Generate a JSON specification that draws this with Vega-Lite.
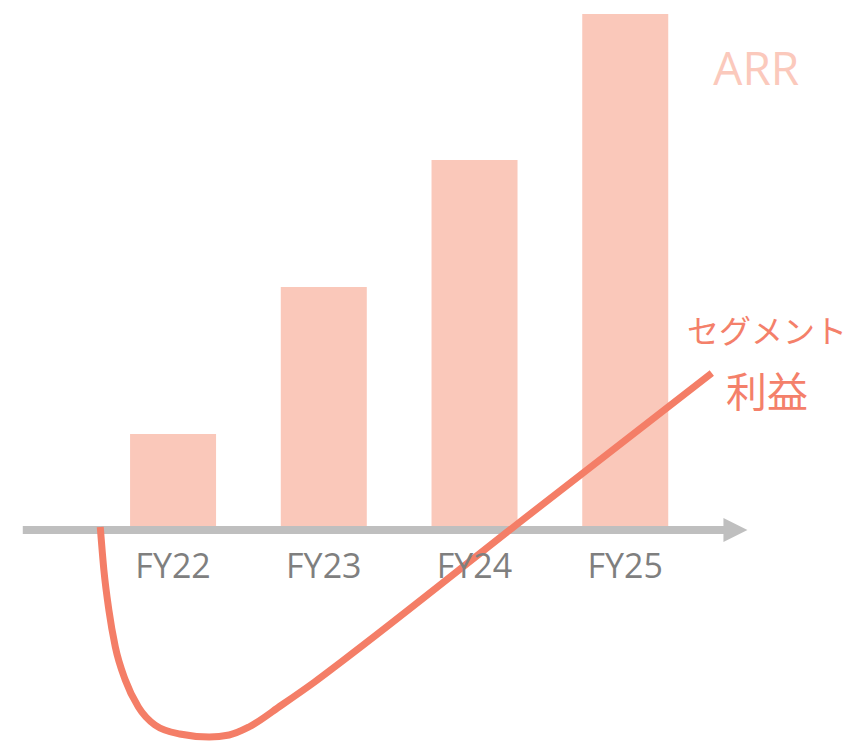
{
  "$schema": "https://vega.github.io/schema/vega-lite/v6.json",
  "width": 858,
  "height": 741,
  "padding": 0,
  "autosize": {"type": "none"},
  "background": "white",
  "config": {"view": {"stroke": null}},
  "datasets": {
    "arr": [
      {"fy": "FY22", "pos": 22, "arr": 96},
      {"fy": "FY23", "pos": 23, "arr": 243},
      {"fy": "FY24", "pos": 24, "arr": 370},
      {"fy": "FY25", "pos": 25, "arr": 516}
    ],
    "profit": [
      {"pos": 21.517, "profit": 3},
      {"pos": 21.541, "profit": -40},
      {"pos": 21.574, "profit": -80},
      {"pos": 21.617, "profit": -117},
      {"pos": 21.683, "profit": -150},
      {"pos": 21.770, "profit": -177},
      {"pos": 21.880, "profit": -195},
      {"pos": 22.044, "profit": -204},
      {"pos": 22.240, "profit": -207},
      {"pos": 22.372, "profit": -205},
      {"pos": 22.503, "profit": -197},
      {"pos": 22.721, "profit": -175},
      {"pos": 22.939, "profit": -152},
      {"pos": 23.115, "profit": -132},
      {"pos": 24.344, "profit": 13},
      {"pos": 25.574, "profit": 157}
    ],
    "axisline": [{"start": 21.003, "end": 25.672, "tip": 25.731, "zero": 0}]
  },
  "layer": [
    {
      "data": {"name": "arr"},
      "mark": {"type": "bar", "size": 86, "color": "#FAC8BA"},
      "encoding": {
        "x": {"field": "pos", "type": "quantitative", "scale": {"domain": [20.885, 26.511], "nice": false, "zero": false}, "axis": null},
        "y": {"field": "arr", "type": "quantitative", "scale": {"domain": [-211, 530], "nice": false, "zero": false}, "axis": null},
        "y2": {"datum": 0}
      }
    },
    {
      "data": {"name": "axisline"},
      "mark": {"type": "rule", "color": "#BFBFBF", "strokeWidth": 8, "strokeCap": "butt"},
      "encoding": {
        "x": {"field": "start", "type": "quantitative"},
        "x2": {"field": "end"},
        "y": {"field": "zero", "type": "quantitative"}
      }
    },
    {
      "data": {"name": "axisline"},
      "mark": {"type": "point", "shape": "M-1,-1L1,0L-1,1Z", "size": 576, "filled": true, "opacity": 1, "color": "#BFBFBF", "strokeWidth": 0},
      "encoding": {
        "x": {"field": "tip", "type": "quantitative"},
        "y": {"field": "zero", "type": "quantitative"}
      }
    },
    {
      "data": {"name": "profit"},
      "mark": {"type": "line", "color": "#F47E67", "strokeWidth": 7, "interpolate": "monotone", "strokeCap": "butt"},
      "encoding": {
        "x": {"field": "pos", "type": "quantitative"},
        "y": {"field": "profit", "type": "quantitative"}
      }
    },
    {
      "data": {"name": "arr"},
      "mark": {"type": "text", "font": "Open Sans", "fontSize": 34, "color": "#7F7F7F", "baseline": "middle", "align": "center"},
      "encoding": {
        "x": {"field": "pos", "type": "quantitative"},
        "y": {"datum": -38},
        "text": {"field": "fy"}
      }
    },
    {
      "data": {"values": [{"t": "ARR"}]},
      "mark": {"type": "text", "font": "Open Sans", "fontSize": 46, "color": "#FBC9BC", "baseline": "middle", "align": "center"},
      "encoding": {
        "x": {"datum": 25.869},
        "y": {"datum": 459},
        "text": {"field": "t"}
      }
    },
    {
      "data": {"values": [{"t": "セグメント", "yy": 197}, {"t": "利益", "yy": 135}]},
      "mark": {"type": "text", "font": "Noto Sans CJK JP", "fontSize": 33, "color": "#F4806A", "baseline": "middle", "align": "center"},
      "encoding": {
        "x": {"datum": 25.941},
        "y": {"field": "yy", "type": "quantitative"},
        "text": {"field": "t"},
        "size": {"condition": {"test": "datum.t === '利益'", "value": 41}, "value": 32}
      }
    }
  ]
}
